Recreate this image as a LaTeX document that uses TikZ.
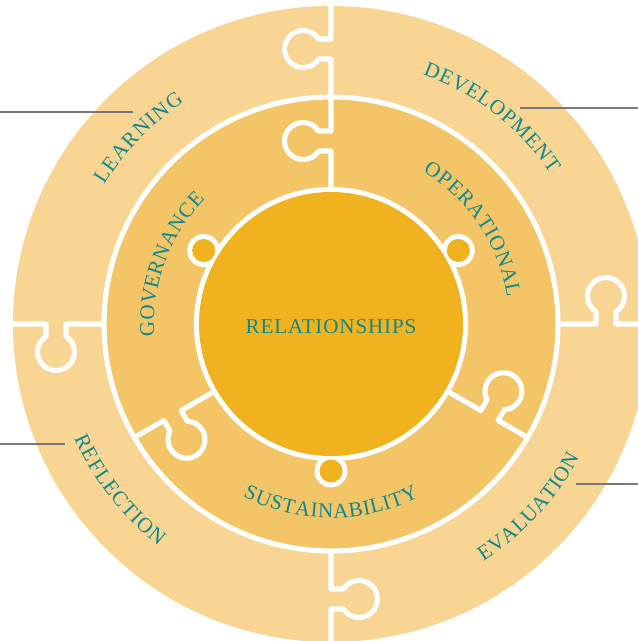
\documentclass[tikz,border=0pt]{standalone}
\usepackage{fontspec}
\usetikzlibrary{decorations.text}

\newfontfamily\ringserif{Liberation Serif}
\newfontfamily\coreserif[LetterSpace=4]{Liberation Serif}

\definecolor{ringouter}{HTML}{F8D592}
\definecolor{ringmiddle}{HTML}{F4C567}
\definecolor{ringinner}{HTML}{F0B31F}
\definecolor{labelteal}{HTML}{0F898D}
\definecolor{leadergray}{HTML}{76787C}

\newcommand{\labelfont}{\color{labelteal}\ringserif\fontsize{15}{15}\selectfont}

\tikzset{
  joint/.style     = {draw=white, line width=3.6pt, line join=round},
  leader/.style    = {draw=leadergray, line width=0.9pt},
  ringlabel/.style = {decorate, decoration={text along path,
                      text align={fit to path}, text={|\labelfont|#1}}}
}

\begin{document}
\begin{tikzpicture}[x=0.025cm, y=0.025cm]

\useasboundingbox (-331,-317) rectangle (307,324);
\clip (-331,-317) rectangle (307,324);

% outer ring, four joints with a tab each
\fill[ringouter] (0,0) circle[radius=318];
\foreach \ang in {90,0,180,270}
  \draw[joint, rotate=\ang] (200,0) -- (265,0) -- (265,12.4)
    arc[start angle=237.3, end angle=-57.3, radius=18.5] -- (285,0) -- (340,0);

% middle ring, three joints
\filldraw[joint, fill=ringmiddle] (0,0) circle[radius=227];
\foreach \ang in {90,-30,210}
  \draw[joint, rotate=\ang] (110,0) -- (173,0) -- (173,12.4)
    arc[start angle=237.3, end angle=-57.3, radius=18.5] -- (193,0) -- (227,0);

% inner disc with three small tabs (edge drawn wide, then filled over)
\foreach \ang in {150,30,270}
  \draw[joint, line width=7.2pt] (\ang:147) circle[radius=11.5];
\draw[joint, line width=7.2pt] (0,0) circle[radius=132];
\fill[ringinner] (0,0) circle[radius=132];
\foreach \ang in {150,30,270}
  \fill[ringinner] (\ang:147) circle[radius=11.5];

% labels on the rings
\path[ringlabel=LEARNING]       (148.5:266) arc[start angle=148.5, end angle=123.5, radius=266];
\path[ringlabel=DEVELOPMENT]    (69.8:266)  arc[start angle=69.8,  end angle=34.4,  radius=266];
\path[ringlabel=REFLECTION]     (204:281)   arc[start angle=204,   end angle=232.2, radius=281];
\path[ringlabel=EVALUATION]     (-57.3:282) arc[start angle=-57.3, end angle=-28.3, radius=282];
\path[ringlabel=GOVERNANCE]     (184:177)   arc[start angle=184,   end angle=135.3, radius=177];
\path[ringlabel=OPERATIONAL]    (59:178)    arc[start angle=59,    end angle=8.5,   radius=178];
\path[ringlabel=SUSTAINABILITY] (243:194)   arc[start angle=243,   end angle=297,   radius=194];

\node[font=\coreserif\fontsize{15}{15}\selectfont, text=labelteal]
  (core) at (0,-2.5) {RELATIONSHIPS};

% leader lines running off the page
\coordinate (learnA) at (-331,212);
\coordinate (learnB) at (-198,212);
\coordinate (devA)   at (189,216);
\coordinate (devB)   at (307,216);
\coordinate (reflA)  at (-331,-120);
\coordinate (reflB)  at (-266,-120);
\coordinate (evalA)  at (245,-160);
\coordinate (evalB)  at (307,-160);
\draw[leader] (learnA) -- (learnB);
\draw[leader] (devA) -- (devB);
\draw[leader] (reflA) -- (reflB);
\draw[leader] (evalA) -- (evalB);

\end{tikzpicture}
\end{document}
